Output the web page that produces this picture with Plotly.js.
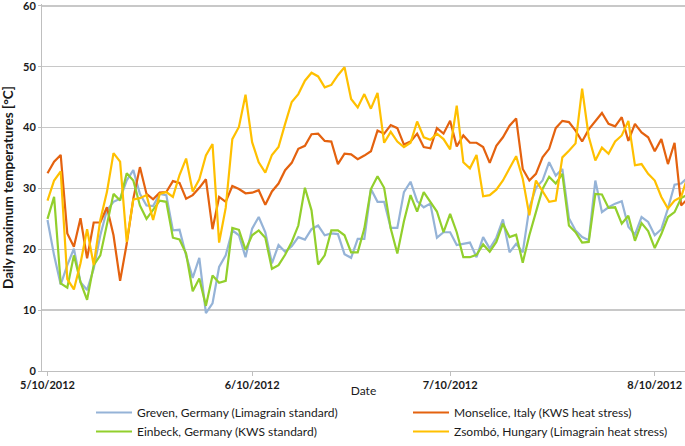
<!DOCTYPE html>
<html>
<head>
<meta charset="utf-8">
<script src="https://cdn.plot.ly/plotly-3.0.1.min.js"></script>
<style>
  html, body { margin: 0; padding: 0; background: #ffffff; }
  #chart { width: 685px; height: 446px; }
</style>
</head>
<body>
<div id="chart"></div>
<script>
// ---- Data (daily maximum temperatures, °C), one value per day from startDate ----
const startDate = '2012-05-10';

const greven = [24.8, 19.0, 14.2, 17.4, 20.1, 14.6, 13.3, 16.8, 22.3, 26.4, 27.8, 28.3, 31.3, 33.0, 29.1, 27.2,
  27.1, 29.1, 28.9, 23.1, 23.2, 19.0, 15.3, 18.6, 9.5, 11.1, 17.1, 19.0, 23.1, 22.3, 18.7, 23.4,
  25.3, 22.8, 17.7, 20.7, 19.6, 20.5, 22.0, 21.6, 23.3, 23.9, 22.3, 22.6, 22.5, 19.2, 18.6, 21.7,
  21.7, 29.9, 27.8, 27.8, 23.5, 23.5, 29.4, 31.1, 27.9, 26.9, 27.5, 21.9, 22.8, 22.8, 20.7, 20.9,
  21.1, 18.7, 22.0, 20.1, 21.9, 24.9, 19.5, 20.9, 19.5, 26.8, 30.1, 31.3, 34.3, 32.1, 33.2, 25.1,
  23.1, 22.0, 21.5, 31.3, 26.1, 26.9, 27.5, 27.9, 23.7, 22.4, 25.3, 24.5, 22.3, 23.3, 26.7, 30.6, 30.8, 31.8];

const monselice = [32.5, 34.4, 35.5, 22.6, 20.4, 25.1, 18.5, 24.4, 24.4, 26.9, 22.3, 14.8, 20.9, 28.3, 33.5, 29.1,
  28.2, 29.3, 29.4, 31.2, 30.9, 28.3, 28.9, 30.1, 31.5, 23.3, 28.6, 27.8, 30.4, 29.9, 29.2, 29.3,
  29.7, 27.3, 29.5, 30.8, 33.0, 34.2, 36.5, 37.0, 38.9, 39.0, 37.8, 37.7, 34.0, 35.7, 35.6, 34.8,
  35.4, 36.1, 39.5, 39.0, 40.4, 39.9, 37.2, 37.7, 39.0, 36.8, 36.6, 39.9, 39.0, 41.1, 36.9, 38.7,
  37.5, 37.5, 36.8, 34.2, 37.0, 38.4, 40.3, 41.5, 33.2, 31.3, 32.4, 35.1, 36.5, 39.9, 41.1, 40.9,
  39.5, 37.7, 39.7, 41.1, 42.4, 40.6, 40.2, 41.7, 37.8, 40.6, 39.2, 38.4, 36.1, 38.1, 34.0, 37.5, 27.2, 28.3];

const einbeck = [25.0, 28.6, 14.4, 13.7, 19.0, 14.6, 11.7, 17.4, 19.0, 23.9, 29.1, 28.0, 32.5, 31.3, 27.2, 25.0,
  26.4, 28.0, 27.8, 21.9, 21.6, 19.3, 13.1, 15.2, 10.7, 15.7, 14.5, 14.8, 23.5, 23.2, 19.9, 22.3,
  23.1, 21.9, 16.8, 17.4, 19.1, 21.2, 23.9, 30.1, 26.4, 17.5, 19.0, 23.1, 23.1, 22.3, 19.5, 19.5,
  23.4, 29.9, 32.0, 30.1, 23.4, 19.3, 24.6, 28.9, 26.2, 29.4, 27.8, 26.2, 22.8, 25.8, 22.8, 18.7,
  18.7, 19.1, 20.8, 19.6, 21.2, 24.2, 22.0, 22.4, 17.8, 22.3, 26.1, 29.9, 31.9, 30.8, 32.4, 23.9,
  22.8, 21.1, 21.2, 29.1, 29.0, 26.8, 26.9, 24.2, 25.5, 21.4, 24.3, 23.0, 20.2, 22.5, 25.3, 26.1, 28.4, 29.0];

const zsombo = [28.0, 31.3, 32.8, 15.1, 13.4, 17.7, 23.3, 17.4, 24.8, 29.4, 35.8, 34.4, 21.2, 28.2, 28.4, 28.9,
  24.8, 29.1, 29.4, 28.6, 32.2, 34.9, 29.5, 31.5, 35.4, 37.3, 21.1, 26.8, 38.1, 40.1, 45.4, 37.6,
  34.3, 32.6, 35.5, 36.8, 40.6, 44.2, 45.5, 47.7, 49.0, 48.4, 46.6, 47.0, 48.6, 49.9, 44.7, 43.3,
  45.5, 43.1, 45.7, 37.5, 39.3, 37.7, 36.8, 37.5, 41.0, 38.4, 38.0, 39.0, 38.1, 36.4, 43.6, 34.3,
  33.3, 35.5, 28.7, 28.9, 29.8, 31.3, 33.3, 35.3, 31.6, 25.6, 31.3, 29.5, 27.8, 28.0, 35.1, 36.2,
  37.4, 46.4, 38.5, 34.6, 36.7, 35.7, 37.7, 38.7, 41.1, 33.8, 34.0, 32.4, 31.3, 28.6, 26.7, 28.0, 28.6, 32.0];

const seriesNames = [
  'Greven, Germany (Limagrain standard)',
  'Monselice, Italy (KWS heat stress)',
  'Einbeck, Germany (KWS standard)',
  'Zsombó, Hungary (Limagrain heat stress)'
];

const tickDates = ['2012-05-10', '2012-06-10', '2012-07-10', '2012-08-10'];
const tickLabels = ['5/10/2012', '6/10/2012', '7/10/2012', '8/10/2012'];
const yTickValues = [0, 10, 20, 30, 40, 50, 60];

// ---- Build daily date axis ----
function dailyDates(start, n) {
  const out = [];
  const d0 = new Date(start + 'T00:00:00Z');
  for (let i = 0; i < n; i++) {
    const d = new Date(d0.getTime() + i * 86400000);
    out.push(d.toISOString().slice(0, 10));
  }
  return out;
}
const dates = dailyDates(startDate, greven.length);

const colors = ['#95b3d7', '#e4620f', '#92cf2c', '#ffc000'];
const values = [greven, monselice, einbeck, zsombo];

const traces = values.map((v, k) => ({
  type: 'scatter',
  mode: 'lines',
  x: dates,
  y: v,
  name: seriesNames[k],
  line: { color: colors[k], width: 2.2 },
  hoverinfo: 'skip'
}));

const FONT = 'Lato, "Open Sans", "Liberation Sans", sans-serif';

const layout = {
  width: 685,
  height: 446,
  margin: { l: 42, r: 0, t: 4, b: 75 },
  paper_bgcolor: '#ffffff',
  plot_bgcolor: '#ffffff',
  font: { family: FONT, color: '#1a1a1a', size: 12 },
  showlegend: true,
  legend: {
    orientation: 'h',
    xref: 'container', yref: 'container',
    x: 91 / 685, y: 48 / 446,
    xanchor: 'left', yanchor: 'top',
    entrywidth: 266, entrywidthmode: 'pixels',
    itemwidth: 36,
    font: { family: FONT, size: 12, color: '#1a1a1a' },
    bgcolor: 'rgba(0,0,0,0)'
  },
  xaxis: {
    type: 'date',
    range: ['2012-05-09 04:00', '2012-08-14 14:00'],
    tickvals: tickDates,
    ticktext: tickLabels,
    showgrid: false,
    zeroline: false,
    showline: true,
    linecolor: '#bfbfbf',
    linewidth: 1,
    ticks: 'outside',
    ticklen: 4,
    tickcolor: '#bfbfbf',
    tickfont: { family: FONT, size: 11, weight: 'bold', color: '#1a1a1a' },
    ticklabeloverflow: 'allow',
    title: { text: 'Date', font: { family: FONT, size: 12, color: '#1a1a1a' }, standoff: 0 },
    automargin: false
  },
  yaxis: {
    range: [0, 60.3],
    tickmode: 'array',
    tickvals: yTickValues,
    showgrid: true,
    gridcolor: '#c8c8c8',
    gridwidth: 1.5,
    zeroline: false,
    showline: true,
    linecolor: '#bfbfbf',
    linewidth: 1,
    ticks: 'outside',
    ticklen: 3,
    tickcolor: '#bfbfbf',
    tickfont: { family: FONT, size: 11, weight: 'bold', color: '#1a1a1a' },
    ticklabeloverflow: 'allow',
    title: { text: 'Daily maximum temperatures [°C]', font: { family: FONT, size: 13.5, weight: 'bold', color: '#1a1a1a' } },
    automargin: false
  }
};

Plotly.newPlot('chart', traces, layout, { displayModeBar: false, staticPlot: true });
</script>
</body>
</html>
